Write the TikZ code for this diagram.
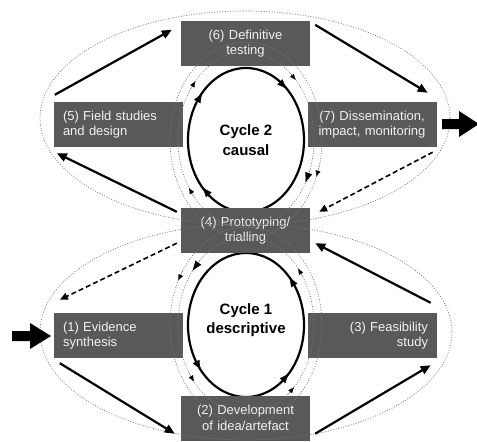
\documentclass[tikz,border=0pt]{standalone}
\usepackage{fontspec}
\setmainfont{Liberation Sans}
\usetikzlibrary{arrows.meta}
\definecolor{boxgray}{HTML}{595959}
\definecolor{boxtext}{HTML}{F2F2F2}
\definecolor{dotgray}{HTML}{7A7A7A}
\newcommand{\ringtip}[7][]{\draw[#1] ({#2+#4*cos(#6)},{#3+#5*sin(#6)}) -- ({#2+#4*cos(#7)},{#3+#5*sin(#7)});}
\begin{document}
\begin{tikzpicture}[x=1pt,y=-1pt,
  stage/.style={fill=boxgray, text=boxtext, minimum width=129pt, minimum height=45pt, inner sep=0pt,
    font=\fontsize{13}{15.5}\selectfont},
  lstage/.style={stage, text width=111pt, align=left},
  cstage/.style={stage, text width=125pt, align=center},
  rstage/.style={stage, text width=112pt, align=right},
  flow/.style={line width=2.2pt, -{Triangle[length=10pt,width=8.5pt]}},
  dflow/.style={line width=1.6pt, dash pattern=on 5pt off 3pt, -{Triangle[length=8pt,width=7pt]}},
  dotted ring/.style={draw=dotgray, line width=0.7pt, dash pattern=on 1pt off 1.6pt},
  cyc/.style={line width=2.2pt},
  soltip/.style={line width=0.3pt, -{Latex[length=10pt,width=7.5pt]}},
  bigtip/.style={draw=dotgray, line width=0.3pt, -{Latex[length=10pt,width=7.5pt,color=black]}},
  smalltip/.style={draw=dotgray, line width=0.3pt, -{Latex[length=6pt,width=5pt,color=black]}},
  cyctext/.style={align=center, font=\fontsize{15}{19.5}\selectfont\bfseries}
]
\useasboundingbox (0,0) rectangle (477,442);
\clip (0,0) rectangle (477,442);

% solid cycle circles
\draw[cyc] (246,140) ellipse [x radius=58, y radius=72];
\draw[cyc] (246,325) ellipse [x radius=58, y radius=72];

% boxes
\node[cstage] (b6) at (245.5,43.5) {(6) Definitive\\testing};
\node[lstage] (b5) at (118.5,124.5) {(5) Field studies\\and design};
\node[cstage] (b7) at (372,124.5) {(7) Dissemination,\\impact, monitoring};
\node[cstage] (b4) at (245.5,230.5) {(4) Prototyping/\\trialling};
\node[lstage] (b1) at (118.5,335.5) {(1) Evidence\\synthesis};
\node[rstage] (b3) at (372,335.5) {(3) Feasibility\\study};
\node[cstage] (b2) at (245.5,418) {(2) Development\\of idea/artefact};

% cycle labels
\node[cyctext] (c2) at (246,140) {Cycle 2\\causal};
\node[cyctext] (c1) at (246,320) {Cycle 1\\descriptive};

% outer dotted ovals
\draw[dotted ring] (245,118) ellipse [x radius=205, y radius=107];
\draw[dotted ring] (246,332) ellipse [x radius=206, y radius=108];
% inner dotted rings
\draw[dotted ring] (246,140) ellipse [x radius=68, y radius=88];
\draw[dotted ring] (246,140) ellipse [x radius=76, y radius=98];
\draw[dotted ring] (246,325) ellipse [x radius=68, y radius=88];
\draw[dotted ring] (246,325) ellipse [x radius=76, y radius=98];

% arrowheads on cycle 2 (clockwise)
\ringtip[soltip]{246}{140}{58}{72}{209}{221}
\ringtip[soltip]{246}{140}{58}{72}{303}{315}
\ringtip[soltip]{246}{140}{58}{72}{127}{139}
\ringtip[smalltip]{246}{140}{68}{88}{215}{222}
\ringtip[smalltip]{246}{140}{68}{88}{140}{147}
\ringtip[smalltip]{246}{140}{68}{88}{310}{317}
\ringtip[bigtip]{246}{140}{68}{88}{19}{29}
\ringtip[smalltip]{246}{140}{76}{98}{15}{22}

% arrowheads on cycle 1 (counter-clockwise)
\ringtip[soltip]{246}{325}{58}{72}{151}{141}
\ringtip[soltip]{246}{325}{58}{72}{328}{318}
\ringtip[soltip]{246}{325}{58}{72}{52}{42}
\ringtip[bigtip]{246}{325}{68}{88}{228}{218}
\ringtip[smalltip]{246}{325}{68}{88}{147}{140}
\ringtip[smalltip]{246}{325}{68}{88}{327}{320}
\ringtip[smalltip]{246}{325}{68}{88}{52}{45}
\ringtip[smalltip]{246}{325}{76}{98}{214}{207}

% process arrows
\draw[flow] ([shift={(1,-7)}]b5.north west) -- ([shift={(-9,9)}]b6.north west);
\draw[flow] ([shift={(5,4)}]b6.north east) -- ([shift={(-9,-9)}]b7.north east);
\draw[flow] ([shift={(-4,4)}]b4.north west) -- ([shift={(3,6)}]b5.south west);
\draw[flow] ([shift={(6,5)}]b1.south west) -- ([shift={(-6,-7)}]b2.south west);
\draw[flow] ([shift={(5,-7)}]b2.south east) -- ([shift={(-6,7)}]b3.south east);
\draw[flow] ([shift={(-6,-10)}]b3.north east) -- ([shift={(5,-10)}]b4.south east);
\draw[dflow] ([shift={(-4,5)}]b7.south east) -- ([shift={(9,4)}]b4.north east);
\draw[dflow] ([shift={(-4,-10)}]b4.south west) -- ([shift={(6,-13)}]b1.north west);

% entry and exit block arrows
\fill (12,331) -- (30,331) -- (30,323) -- (51,336) -- (30,349) -- (30,341) -- (12,341) -- cycle;
\fill (442,119) -- (459,119) -- (459,111) -- (479,124) -- (459,137) -- (459,129) -- (442,129) -- cycle;
\end{tikzpicture}
\end{document}
